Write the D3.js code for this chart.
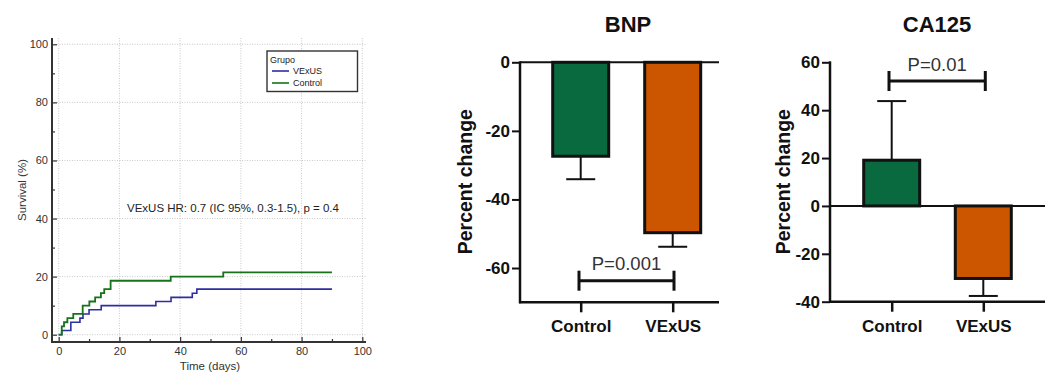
<!DOCTYPE html>
<html lang="en">
<head>
<meta charset="UTF-8">
<title>VExUS charts</title>
<script src="https://d3js.org/d3.v7.min.js"></script>
<style>
  body { margin: 0; background: #fff; }
  svg { display: block; font-family: "Liberation Sans", Arial, sans-serif; }
</style>
</head>
<body>
<div id="chart"></div>
<script>
// Kaplan-Meier style curves (cumulative %)
const kmTimesVExUS = [0, 1, 4, 7, 8, 10, 14, 32, 37, 44, 45.5, 90];
const kmValuesVExUS = [0, 1.43, 4.29, 5.71, 7.14, 8.57, 10, 11.43, 12.86, 14.29, 15.71, 15.71];
const kmTimesControl = [0, 1, 1.75, 2.85, 4.8, 7.9, 10.1, 12, 13.9, 15, 17.1, 36.9, 54.2, 90];
const kmValuesControl = [0, 2.86, 4.29, 5.71, 7.14, 10, 11.43, 12.86, 14.29, 15.71, 18.57, 20, 21.43, 21.43];
const kmTicks = [0, 20, 40, 60, 80, 100];
const kmMinorTicks = [10, 30, 50, 70, 90];

// bar charts
const groups = ["Control", "VExUS"];
const bnpMean = [-27.4, -49.7];
const bnpErr = [-34.1, -53.8];
const bnpTicks = [0, -20, -40, -60];
const ca125Mean = [19.1, -30.3];
const ca125Err = [43.8, -37.6];
const ca125Ticks = [60, 40, 20, 0, -20, -40];

const W = 1057, H = 379;
const svg = d3.select('#chart').append('svg').attr('width', W).attr('height', H);

// ---------- left: survival plot ----------
const kx = d3.scaleLinear().domain([0, 100]).range([58.7, 362.3]);
const ky = d3.scaleLinear().domain([0, 100]).range([334.7, 44.3]);
const axX = 52, axY = 342;
const km = svg.append('g');

// dotted grid
km.selectAll('.hgrid').data(kmTicks).enter().append('line')
  .attr('x1', axX).attr('x2', 367)
  .attr('y1', d => ky(d)).attr('y2', d => ky(d))
  .attr('stroke', '#bbb').attr('stroke-width', 0.8).attr('stroke-dasharray', '1,1.5');
km.selectAll('.vgrid').data(kmTicks).enter().append('line')
  .attr('x1', d => kx(d)).attr('x2', d => kx(d))
  .attr('y1', 38).attr('y2', axY)
  .attr('stroke', '#bbb').attr('stroke-width', 0.8).attr('stroke-dasharray', '1,1.5');

// axes
const yAxis = km.append('g').attr('transform', `translate(${axX},0)`)
  .call(d3.axisLeft(ky).tickValues(kmTicks).tickSizeInner(-5).tickSizeOuter(0).tickPadding(4));
const yMinor = km.append('g').attr('transform', `translate(${axX},0)`)
  .call(d3.axisLeft(ky).tickValues(kmMinorTicks).tickSizeInner(-3).tickSizeOuter(0).tickFormat(''));
const xAxis = km.append('g').attr('transform', `translate(0,${axY})`)
  .call(d3.axisBottom(kx).tickValues(kmTicks).tickSizeInner(-5).tickSizeOuter(0).tickPadding(5));
const xMinor = km.append('g').attr('transform', `translate(0,${axY})`)
  .call(d3.axisBottom(kx).tickValues(kmMinorTicks).tickSizeInner(-3).tickSizeOuter(0).tickFormat(''));
[yAxis, yMinor, xAxis, xMinor].forEach(g => {
  g.select('.domain').remove();
  g.selectAll('line').attr('stroke', '#333').attr('stroke-width', 1.2);
  g.selectAll('text').attr('font-size', 11).attr('fill', '#333')
    .attr('font-family', '"Liberation Sans", Arial, sans-serif');
});
km.append('line').attr('x1', axX).attr('x2', axX).attr('y1', 38).attr('y2', axY + 1)
  .attr('stroke', '#333').attr('stroke-width', 2);
km.append('line').attr('x1', axX - 1).attr('x2', 366).attr('y1', axY).attr('y2', axY)
  .attr('stroke', '#333').attr('stroke-width', 2);

// curves
const stepLine = d3.line().curve(d3.curveStepAfter).x(d => kx(d[0])).y(d => ky(d[1]));
km.append('path').datum(d3.zip(kmTimesVExUS, kmValuesVExUS))
  .attr('d', stepLine).attr('fill', 'none').attr('stroke', '#2e2ea3').attr('stroke-width', 1.6);
km.append('path').datum(d3.zip(kmTimesControl, kmValuesControl))
  .attr('d', stepLine).attr('fill', 'none').attr('stroke', '#16731a').attr('stroke-width', 1.8);

// labels
km.append('text').attr('x', 210).attr('y', 370).attr('text-anchor', 'middle')
  .attr('font-size', 11.5).attr('fill', '#333').text('Time (days)');
km.append('text').attr('transform', 'translate(22,190) rotate(-90)')
  .attr('text-anchor', 'middle').attr('dominant-baseline', 'central')
  .attr('font-size', 11.5).attr('fill', '#333').text('Survival (%)');
km.append('text').attr('x', 127).attr('y', 212)
  .attr('font-size', 11.5).attr('fill', '#222').text('VExUS HR: 0.7 (IC 95%, 0.3-1.5), p = 0.4');

// legend
const lg = km.append('g');
lg.append('rect').attr('x', 267).attr('y', 51).attr('width', 90.5).attr('height', 40.5)
  .attr('fill', '#fff').attr('stroke', '#333').attr('stroke-width', 1.4);
lg.append('text').attr('x', 270).attr('y', 63).attr('font-size', 9).attr('fill', '#222').text('Grupo');
const legendItems = [['VExUS', '#2e2ea3', 71], ['Control', '#16731a', 83]];
legendItems.forEach(([name, col, yy]) => {
  lg.append('line').attr('x1', 272).attr('x2', 289).attr('y1', yy).attr('y2', yy)
    .attr('stroke', col).attr('stroke-width', 1.6);
  lg.append('text').attr('x', 293).attr('y', yy + 3.3).attr('font-size', 9).attr('fill', '#222').text(name);
});

// ---------- bar charts ----------
const fillColors = ['#09693f', '#cc5500'];

function barChart(opt) {
  const g = svg.append('g');
  const y = d3.scaleLinear().domain(opt.domain).range([opt.bottom, 62.3]);
  const x = d3.scalePoint().domain(groups).range(opt.centers);
  const bw = 56;

  // title
  g.append('text').attr('x', opt.titleX).attr('y', 31.5).attr('text-anchor', 'middle')
    .attr('font-size', 22).attr('font-weight', 'bold').attr('fill', '#111').text(opt.title);

  // y axis (plain hyphen for negatives, like the original)
  const ya = g.append('g').attr('transform', `translate(${opt.axisX},0)`)
    .call(d3.axisLeft(y).tickValues(opt.ticks).tickFormat(d => String(d))
      .tickSizeInner(8).tickSizeOuter(0).tickPadding(2));
  ya.select('.domain').remove();
  ya.selectAll('line').attr('stroke', '#111').attr('stroke-width', 2);
  ya.selectAll('text').attr('font-size', 17).attr('font-weight', 'bold').attr('fill', '#111')
    .attr('font-family', '"Liberation Sans", Arial, sans-serif');
  g.append('line').attr('x1', opt.axisX).attr('x2', opt.axisX)
    .attr('y1', 61.3).attr('y2', opt.bottom + 1)
    .attr('stroke', '#111').attr('stroke-width', 2.5);

  // x axis
  const xa = g.append('g').attr('transform', `translate(0,${opt.bottom})`)
    .call(d3.axisBottom(x).tickSizeInner(10).tickSizeOuter(0).tickPadding(8));
  xa.select('.domain').remove();
  xa.selectAll('line').attr('stroke', '#111').attr('stroke-width', 2.5);
  xa.selectAll('text').attr('font-size', 17).attr('font-weight', 'bold').attr('fill', '#111')
    .attr('font-family', '"Liberation Sans", Arial, sans-serif');
  g.append('line').attr('x1', opt.axisX - 1).attr('x2', opt.axisEnd)
    .attr('y1', opt.bottom).attr('y2', opt.bottom)
    .attr('stroke', '#111').attr('stroke-width', 2.5);

  // zero line
  g.append('line').attr('x1', opt.axisX).attr('x2', opt.axisEnd)
    .attr('y1', y(0)).attr('y2', y(0))
    .attr('stroke', '#111').attr('stroke-width', 2);

  // error bars
  g.selectAll('.err').data(groups).enter().append('g').each(function (d, i) {
    const e = d3.select(this);
    e.append('line').attr('x1', x(d)).attr('x2', x(d))
      .attr('y1', y(opt.mean[i])).attr('y2', y(opt.err[i]))
      .attr('stroke', '#111').attr('stroke-width', 2);
    e.append('line').attr('x1', x(d) - 14.5).attr('x2', x(d) + 14.5)
      .attr('y1', y(opt.err[i])).attr('y2', y(opt.err[i]))
      .attr('stroke', '#111').attr('stroke-width', 2);
  });

  // bars
  g.selectAll('.bar').data(groups).enter().append('rect')
    .attr('x', d => x(d) - bw / 2)
    .attr('width', bw)
    .attr('y', (d, i) => y(Math.max(0, opt.mean[i])))
    .attr('height', (d, i) => Math.abs(y(opt.mean[i]) - y(0)))
    .attr('fill', (d, i) => fillColors[i])
    .attr('stroke', '#111').attr('stroke-width', 3);

  // y label
  g.append('text').attr('transform', `translate(${opt.labelX},181.7) rotate(-90)`)
    .attr('text-anchor', 'middle').attr('dominant-baseline', 'central')
    .attr('font-size', 19.5).attr('font-weight', 'bold').attr('fill', '#111').text('Percent change');

  // significance bracket
  const [bx1, bx2] = opt.bracketX;
  const by = opt.bracketY;
  g.append('line').attr('x1', bx1).attr('x2', bx2).attr('y1', by).attr('y2', by)
    .attr('stroke', '#111').attr('stroke-width', 3);
  [bx1, bx2].forEach(bx => g.append('line').attr('x1', bx).attr('x2', bx)
    .attr('y1', by - 10).attr('y2', by + 10).attr('stroke', '#111').attr('stroke-width', 3));
  g.append('text').attr('x', (bx1 + bx2) / 2).attr('y', opt.pY).attr('text-anchor', 'middle')
    .attr('font-size', 18.5).attr('fill', '#333').text(opt.pText);
}

barChart({
  title: 'BNP', titleX: 628, domain: [-70, 0], bottom: 302.3,
  centers: [580.7, 672.7], axisX: 520, axisEnd: 719, labelX: 465,
  ticks: bnpTicks, mean: bnpMean, err: bnpErr,
  bracketX: [579, 674], bracketY: 280.7, pY: 270, pText: 'P=0.001'
});

barChart({
  title: 'CA125', titleX: 937, domain: [-40, 60], bottom: 301.7,
  centers: [891.7, 983.3], axisX: 830, axisEnd: 1045, labelX: 783.3,
  ticks: ca125Ticks, mean: ca125Mean, err: ca125Err,
  bracketX: [889, 985.3], bracketY: 81, pY: 70.5, pText: 'P=0.01'
});
</script>
</body>
</html>
